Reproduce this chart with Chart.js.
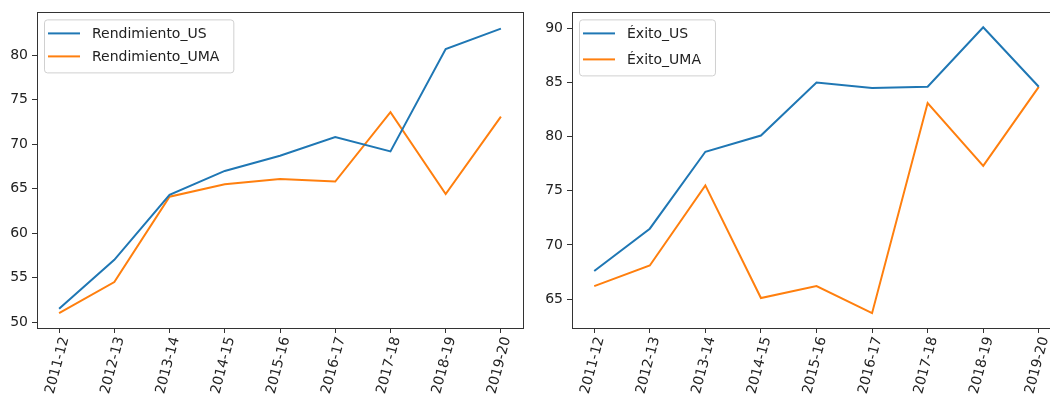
<!DOCTYPE html>
<html><head><meta charset="utf-8">
<script src="https://cdn.jsdelivr.net/npm/chart.js@4.4.1/dist/chart.umd.min.js"></script>
<style>
html,body{margin:0;padding:0;background:#fff;overflow:hidden;width:1050px;height:400px;}
#w1{position:absolute;left:0;top:0;width:530px;height:400px;}
#w2{position:absolute;left:530px;top:0;width:560px;height:400px;}
</style></head><body>
<div id="w1"><canvas id="c1"></canvas></div>
<div id="w2"><canvas id="c2"></canvas></div>
<script>
const cursos = ['2011-12','2012-13','2013-14','2014-15','2015-16','2016-17','2017-18','2018-19','2019-20'];
const rendimientoUS  = [51.5, 57.0, 64.3, 67.0, 68.7, 70.8, 69.2, 80.7, 83.0];
const rendimientoUMA = [51.0, 54.5, 64.1, 65.5, 66.1, 65.8, 73.6, 64.4, 73.1];
const exitoUS  = [67.6, 71.5, 78.6, 80.1, 85.0, 84.5, 84.6, 90.1, 84.6];
const exitoUMA = [66.2, 68.1, 75.5, 65.1, 66.2, 63.7, 83.1, 77.3, 84.6];
const yTicks1 = [50, 55, 60, 65, 70, 75, 80];
const yTicks2 = [65, 70, 75, 80, 85, 90];

const FONT = {family: "'DejaVu Sans', sans-serif", size: 14};
const BLUE = '#1f77b4', ORANGE = '#ff7f0e';

const framePlugin = {
  id: 'frameLegend',
  afterDraw(chart, args, opts) {
    const ctx = chart.ctx, a = chart.chartArea;
    ctx.save();
    ctx.strokeStyle = '#333';
    ctx.lineWidth = 1;
    ctx.strokeRect(Math.round(a.left) + 0.5, Math.round(a.top) + 0.5,
                   Math.round(a.right - a.left), Math.round(a.bottom - a.top));
    ctx.font = FONT.size + "px 'DejaVu Sans'";
    const ds = chart.data.datasets;
    let tw = 0;
    ds.forEach(d => { tw = Math.max(tw, ctx.measureText(d.label).width); });
    const bx = a.left + 7, by = a.top + 7;
    const rowH = opts.rowH, padTop = opts.padTop;
    const bw = 4 + 32 + 12 + tw + 14;
    const bh = padTop + rowH * (ds.length - 1) + padTop + 2;
    ctx.fillStyle = 'rgba(255,255,255,0.8)';
    ctx.strokeStyle = '#d0d0d0';
    ctx.beginPath();
    ctx.roundRect(bx + 0.5, by + 0.5, bw, bh, 3);
    ctx.fill(); ctx.stroke();
    ds.forEach((d, i) => {
      const cy = by + padTop + i * rowH;
      ctx.strokeStyle = d.borderColor;
      ctx.lineWidth = 2;
      ctx.beginPath();
      ctx.moveTo(bx + 4, cy); ctx.lineTo(bx + 36, cy);
      ctx.stroke();
      ctx.fillStyle = '#222';
      ctx.textBaseline = 'middle';
      ctx.textAlign = 'left';
      ctx.fillText(d.label, bx + 48, cy + 1);
    });
    ctx.restore();
  }
};

function makeChart(id, labels, s1, s2, yMin, yMax, yT, yW, padRight, rowH) {
  const pts = arr => arr.map((v, i) => ({x: i, y: v}));
  return new Chart(document.getElementById(id), {
    type: 'line',
    data: {
      datasets: [
        {label: labels[0], data: pts(s1), borderColor: BLUE, backgroundColor: BLUE, borderWidth: 2, pointRadius: 0, tension: 0},
        {label: labels[1], data: pts(s2), borderColor: ORANGE, backgroundColor: ORANGE, borderWidth: 2, pointRadius: 0, tension: 0}
      ]
    },
    options: {
      responsive: true, maintainAspectRatio: false, animation: false,
      layout: {padding: {top: 12, right: padRight, left: 0, bottom: 0}},
      plugins: {legend: {display: false}, tooltip: {enabled: false}, frameLegend: {rowH: rowH, padTop: 14}},
      scales: {
        x: {
          type: 'linear', min: -0.4, max: 8.4,
          afterBuildTicks: s => { s.ticks = cursos.map((c, i) => ({value: i})); },
          afterFit: s => { s.height = 72; },
          ticks: {minRotation: 75, maxRotation: 75, autoSkip: false, font: FONT, color: '#222', padding: 2,
                  labelOffset: 6, callback: v => cursos[v]},
          grid: {display: true, drawOnChartArea: false, drawTicks: true, tickLength: 5, tickColor: '#333'},
          border: {display: false}
        },
        y: {
          type: 'linear', min: yMin, max: yMax,
          afterBuildTicks: s => { s.ticks = yT.map(v => ({value: v})); },
          afterFit: s => { s.width = yW; },
          ticks: {font: FONT, color: '#222', padding: 4},
          grid: {display: true, drawOnChartArea: false, drawTicks: true, tickLength: 5, tickColor: '#333'},
          border: {display: false}
        }
      }
    },
    plugins: [framePlugin]
  });
}

makeChart('c1', ['Rendimiento_US', 'Rendimiento_UMA'], rendimientoUS, rendimientoUMA, 49.33, 84.83, yTicks1, 37, 7, 23);
makeChart('c2', ['Éxito_US', 'Éxito_UMA'], exitoUS, exitoUMA, 62.33, 91.47, yTicks2, 42, 29, 26);
</script>
</body></html>
